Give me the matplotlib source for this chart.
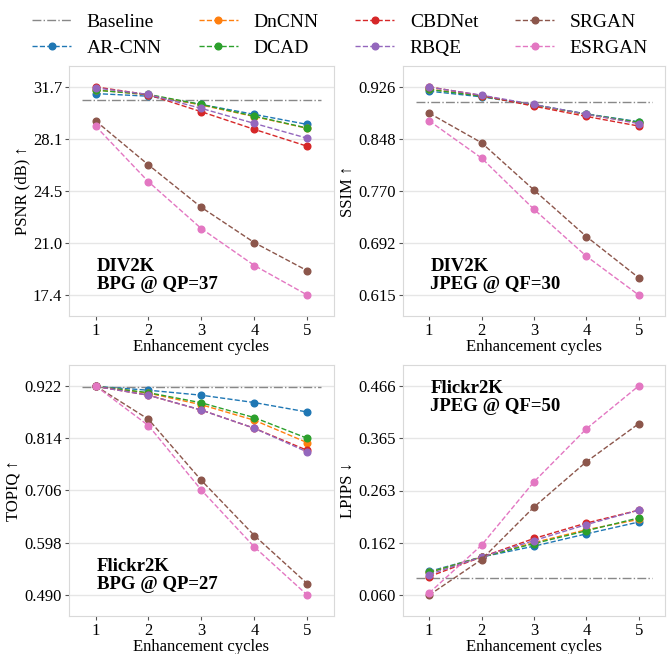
import numpy as np
import matplotlib.pyplot as plt

plt.rcParams['font.family'] = ['Liberation Serif', 'DejaVu Serif']

cycles = [1, 2, 3, 4, 5]
methods = ['AR-CNN', 'DnCNN', 'DCAD', 'CBDNet', 'RBQE', 'SRGAN', 'ESRGAN']
colors = ['#1f77b4', '#ff7f0e', '#2ca02c', '#d62728', '#9467bd', '#8c564b', '#e377c2']

# DIV2K, BPG @ QP=37 -- PSNR
psnr_base = 30.77
psnr = {
    'AR-CNN': [31.24, 31.06, 30.49, 29.81, 29.12],
    'DnCNN':  [31.50, 31.15, 30.45, 29.66, 28.85],
    'DCAD':   [31.47, 31.18, 30.49, 29.69, 28.87],
    'CBDNet': [31.70, 31.16, 29.99, 28.78, 27.62],
    'RBQE':   [31.63, 31.18, 30.22, 29.19, 28.17],
    'SRGAN':  [29.37, 26.34, 23.42, 21.00, 19.07],
    'ESRGAN': [29.01, 25.18, 21.96, 19.43, 17.40],
}

# DIV2K, JPEG @ QF=30 -- SSIM
ssim_base = 0.904
ssim = {
    'AR-CNN': [0.9195, 0.9110, 0.8990, 0.8855, 0.8738],
    'DnCNN':  [0.9225, 0.9125, 0.8985, 0.8845, 0.8725],
    'DCAD':   [0.9220, 0.9120, 0.8990, 0.8850, 0.8730],
    'CBDNet': [0.9259, 0.9130, 0.8970, 0.8817, 0.8673],
    'RBQE':   [0.9255, 0.9135, 0.8996, 0.8850, 0.8710],
    'SRGAN':  [0.8867, 0.8424, 0.7717, 0.7021, 0.6404],
    'ESRGAN': [0.8752, 0.8195, 0.7429, 0.6727, 0.6146],
}

# Flickr2K, BPG @ QP=27 -- TOPIQ
topiq_base = 0.920
topiq = {
    'AR-CNN': [0.921, 0.913, 0.9027, 0.8875, 0.868],
    'DnCNN':  [0.921, 0.907, 0.883, 0.851, 0.8047],
    'DCAD':   [0.921, 0.908, 0.887, 0.8564, 0.8137],
    'CBDNet': [0.921, 0.9027, 0.872, 0.8344, 0.7888],
    'RBQE':   [0.921, 0.9027, 0.872, 0.8344, 0.7854],
    'SRGAN':  [0.922, 0.853, 0.7267, 0.613, 0.5135],
    'ESRGAN': [0.922, 0.840, 0.7067, 0.5894, 0.490],
}

# Flickr2K, JPEG @ QF=50 -- LPIPS
lpips_base = 0.093
lpips = {
    'AR-CNN': [0.106, 0.134, 0.155, 0.179, 0.202],
    'DnCNN':  [0.104, 0.134, 0.162, 0.187, 0.207],
    'DCAD':   [0.104, 0.134, 0.160, 0.185, 0.210],
    'CBDNet': [0.096, 0.134, 0.170, 0.200, 0.225],
    'RBQE':   [0.100, 0.134, 0.166, 0.197, 0.225],
    'SRGAN':  [0.0600, 0.129, 0.231, 0.319, 0.393],
    'ESRGAN': [0.064, 0.157, 0.280, 0.383, 0.4664],
}

panels = [
    (psnr, psnr_base, 'PSNR (dB) \u2191', 'DIV2K\nBPG @ QP=37', 'bottom', '%.1f'),
    (ssim, ssim_base, 'SSIM \u2191', 'DIV2K\nJPEG @ QF=30', 'bottom', '%.3f'),
    (topiq, topiq_base, 'TOPIQ \u2191', 'Flickr2K\nBPG @ QP=27', 'bottom', '%.3f'),
    (lpips, lpips_base, 'LPIPS \u2193', 'Flickr2K\nJPEG @ QF=50', 'top', '%.3f'),
]

fig = plt.figure(figsize=(6.67, 6.54), dpi=100)
boxes = [[0.1035, 0.517, 0.397, 0.382], [0.604, 0.517, 0.393, 0.382],
         [0.1035, 0.058, 0.397, 0.384], [0.604, 0.058, 0.393, 0.384]]

handles = []
for i, (data, base, ylab, note, where, fmt) in enumerate(panels):
    ax = fig.add_axes(boxes[i])
    allv = np.array([data[m] for m in methods])
    lo, hi = allv.min(), allv.max()
    rng = hi - lo
    bl, = ax.plot([0.75, 5.25], [base, base], color='#888888', ls='-.', lw=1.0, label='Baseline')
    hs = [bl]
    for m, c in zip(methods, colors):
        h, = ax.plot(cycles, data[m], color=c, ls='--', lw=1.0, marker='o', ms=4.8, label=m)
        hs.append(h)
    if i == 0:
        handles = hs
    ax.set_xlim(0.5, 5.5)
    ax.set_ylim(lo - 0.1 * rng, hi + 0.1 * rng)
    ax.set_yticks(np.linspace(lo, hi, 5))
    ax.yaxis.set_major_formatter(plt.FormatStrFormatter(fmt))
    ax.set_xticks(cycles)
    ax.grid(axis='y', color='#e6e6e6', lw=1.0)
    ax.set_axisbelow(True)
    for s in ax.spines.values():
        s.set_color('#d9d9d9')
    ax.tick_params(colors='#555555', labelcolor='black', labelsize=12, length=3, pad=2)
    ax.set_xlabel('Enhancement cycles', fontsize=12, labelpad=0)
    ax.set_ylabel(ylab, fontsize=12, labelpad=2)
    if where == 'bottom':
        ax.text(0.105, 0.09, note, transform=ax.transAxes, fontsize=13.5,
                fontweight='bold', va='bottom', ha='left', linespacing=1.08)
    else:
        ax.text(0.105, 0.94, note, transform=ax.transAxes, fontsize=13.5,
                fontweight='bold', va='top', ha='left', linespacing=1.08)

fig.legend(handles=handles, labels=[h.get_label() for h in handles], ncol=4,
           loc='upper center', bbox_to_anchor=(0.51, 1.007), frameon=False,
           fontsize=14, handlelength=2.0, columnspacing=1.9, labelspacing=0.45,
           handletextpad=0.8)

fig.savefig('out.png', dpi=100)
